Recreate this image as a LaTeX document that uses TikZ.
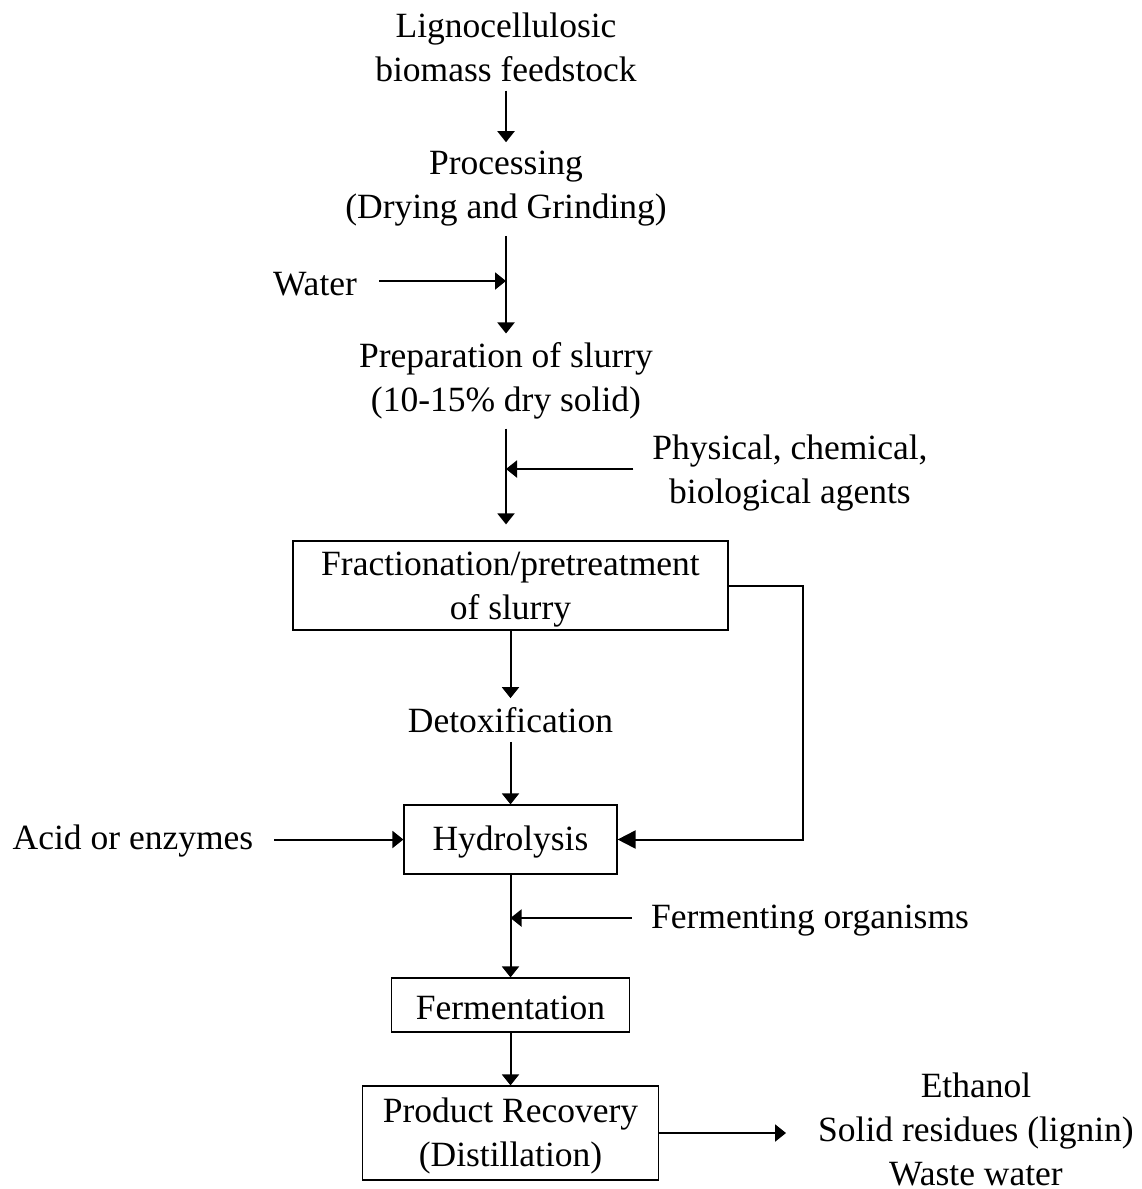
\documentclass[tikz,border=0pt]{standalone}
\usepackage{fontspec}
\setmainfont{Liberation Serif}
\usetikzlibrary{arrows.meta}
\newcommand{\flowfont}{\fontsize{35.5}{44}\selectfont}
\begin{document}
\begin{tikzpicture}[x=1pt,y=-1pt,
  lbl/.style={font=\flowfont, align=center, inner sep=0pt},
  box/.style={draw, line width=1.2pt, font=\flowfont, align=center, inner sep=0pt},
  arr/.style={line width=2pt, -{Triangle[length=11pt,width=17pt]}},
  bigarr/.style={line width=2pt, -{Triangle[length=18pt,width=18pt]}}]
\useasboundingbox (0,0) rectangle (1141,1189);

% process steps
\node[lbl] (lig) at (506,47) {Lignocellulosic\\biomass feedstock};
\node[lbl] (proc) at (506,189) {Processing\\(Drying and Grinding)};
\node[lbl] (prep) at (506,381) {Preparation of slurry\\(10-15\% dry solid)};
\node[box, minimum width=435pt, minimum height=89pt] (frac) at (510.5,585.5)
  {\rule{0pt}{31pt}Fractionation/pretreatment\\of slurry};
\node[lbl] (detox) at (510.5,720) {Detoxification};
\node[box, minimum width=213pt, minimum height=69pt] (hyd) at (510.5,839.5)
  {\rule{0pt}{30pt}Hydrolysis};
\node[box, minimum width=238pt, minimum height=54pt] (ferm) at (510.5,1005)
  {\rule{0pt}{30pt}Fermentation};
\node[box, minimum width=296pt, minimum height=94pt] (prod) at (510.5,1133)
  {\rule{0pt}{31pt}Product Recovery\\(Distillation)};

% inputs and outputs
\node[lbl] (water) at (315,284) {Water};
\node[lbl] (agents) at (790,473) {Physical, chemical,\\biological agents};
\node[lbl] (acid) at (133,841) {Acid or enzymes};
\node[lbl] (orgs) at (810,921) {Fermenting organisms};
\node[lbl] (out) at (976,1129) {Ethanol\\Solid residues (lignin)\\Waste water};

% junctions on the main line
\coordinate (jw) at (506,281);
\coordinate (ja) at (506,469);
\coordinate (jf) at (510.5,918);

% main flow
\draw[arr, shorten <=9pt, shorten >=9pt] (lig.south) -- (proc.north);
\draw[arr, shorten <=9pt, shorten >=9pt] (proc.south) -- (prep.north);
\draw[arr, shorten <=9pt, shorten >=16pt] (prep.south) -- (frac.north -| prep.south);
\draw[arr, shorten >=9pt] (frac.south) -- (detox.north);
\draw[arr, shorten <=9pt] (detox.south) -- (hyd.north);
\draw[arr] (hyd.south) -- (ferm.north);
\draw[arr] (ferm.south) -- (prod.north);
\draw[bigarr] (frac.east) -- ++(74,0) |- (hyd.east);

% side streams
\draw[arr, shorten <=22pt] (water.east |- jw) -- (jw);
\draw[arr, shorten <=19pt] (agents.west |- ja) -- (ja);
\draw[arr, shorten <=21pt] (acid.east |- hyd.west) -- (hyd.west);
\draw[arr, shorten <=19pt] (orgs.west |- jf) -- (jf);
\draw[arr, shorten >=32pt] (prod.east) -- (out.west |- prod.east);
\end{tikzpicture}
\end{document}
